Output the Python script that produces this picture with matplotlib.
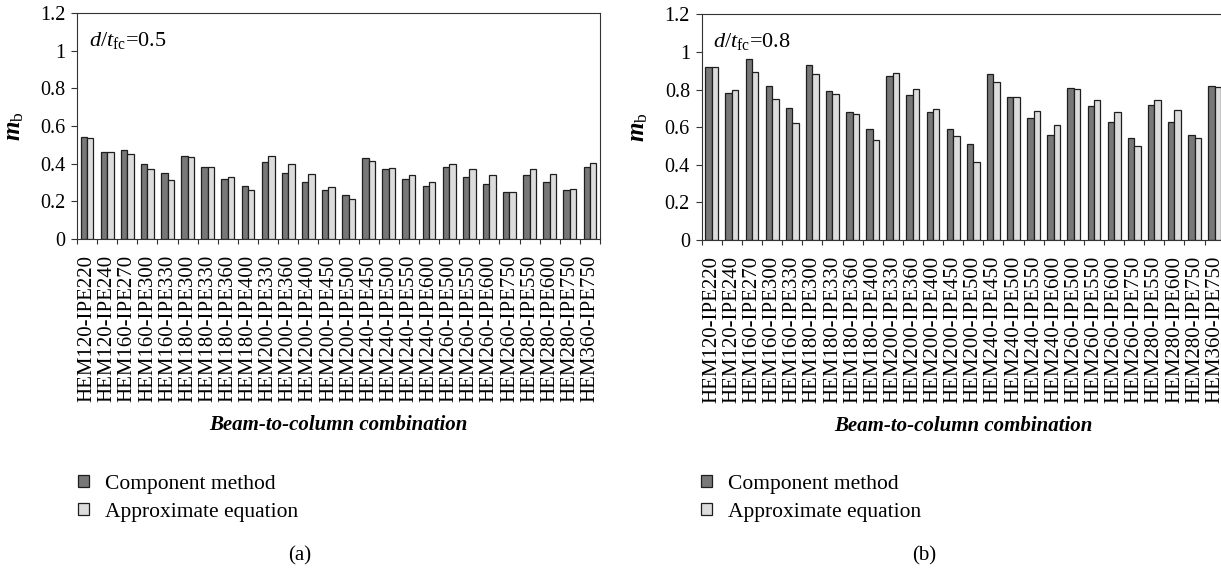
import numpy as np
import matplotlib
matplotlib.use('Agg')
import matplotlib.pyplot as plt

plt.rcParams['font.family'] = ['Liberation Serif', 'DejaVu Serif']
plt.rcParams['mathtext.fontset'] = 'custom'
plt.rcParams['mathtext.rm'] = 'Liberation Serif'
plt.rcParams['mathtext.it'] = 'Liberation Serif:italic'
plt.rcParams['mathtext.bf'] = 'Liberation Serif:bold:italic'

# Beam-to-column combinations (same for both panels)
combinations = [
    'HEM120-IPE220', 'HEM120-IPE240', 'HEM160-IPE270', 'HEM160-IPE300',
    'HEM160-IPE330', 'HEM180-IPE300', 'HEM180-IPE330', 'HEM180-IPE360',
    'HEM180-IPE400', 'HEM200-IPE330', 'HEM200-IPE360', 'HEM200-IPE400',
    'HEM200-IPE450', 'HEM200-IPE500', 'HEM240-IPE450', 'HEM240-IPE500',
    'HEM240-IPE550', 'HEM240-IPE600', 'HEM260-IPE500', 'HEM260-IPE550',
    'HEM260-IPE600', 'HEM260-IPE750', 'HEM280-IPE550', 'HEM280-IPE600',
    'HEM280-IPE750', 'HEM360-IPE750',
]

# d/tfc = 0.5
component_05 = [0.54, 0.46, 0.47, 0.40, 0.35, 0.44, 0.38, 0.32, 0.28, 0.41,
                0.35, 0.30, 0.26, 0.23, 0.43, 0.37, 0.32, 0.28, 0.38, 0.33,
                0.29, 0.25, 0.34, 0.30, 0.26, 0.38]
approx_05 = [0.535, 0.46, 0.45, 0.37, 0.31, 0.435, 0.38, 0.33, 0.26, 0.44,
             0.40, 0.345, 0.275, 0.21, 0.415, 0.375, 0.34, 0.30, 0.40, 0.37,
             0.34, 0.25, 0.37, 0.345, 0.265, 0.405]

# d/tfc = 0.8
component_08 = [0.92, 0.78, 0.96, 0.82, 0.70, 0.93, 0.79, 0.68, 0.59, 0.87,
                0.77, 0.68, 0.59, 0.51, 0.88, 0.76, 0.65, 0.56, 0.81, 0.71,
                0.63, 0.54, 0.72, 0.63, 0.56, 0.82]
approx_08 = [0.92, 0.795, 0.895, 0.75, 0.62, 0.88, 0.775, 0.67, 0.53, 0.89,
             0.805, 0.695, 0.555, 0.415, 0.84, 0.76, 0.685, 0.61, 0.805, 0.745,
             0.68, 0.50, 0.745, 0.69, 0.54, 0.815]

y_ticks = [0, 0.2, 0.4, 0.6, 0.8, 1.0, 1.2]
y_tick_labels = ['0', '0.2', '0.4', '0.6', '0.8', '1', '1.2']

DARK = '#787878'
LIGHT = '#dcdcdc'
EDGE = '#1e1e1e'
W, H = 1221, 569


def draw_panel(ax, comp, approx, ratio_text, caption, cap_x, leg_x):
    x = np.arange(len(combinations))
    bw = 0.32
    b1 = ax.bar(x - bw / 2, comp, bw, color=DARK, edgecolor=EDGE, linewidth=0.9,
                label='Component method')
    b2 = ax.bar(x + bw / 2, approx, bw, color=LIGHT, edgecolor=EDGE, linewidth=0.9,
                label='Approximate equation')

    ax.set_xlim(-0.5, len(combinations) - 0.5)
    ax.set_ylim(0, 1.2)
    ax.set_yticks(y_ticks)
    ax.set_yticklabels(y_tick_labels)
    ax.tick_params(axis='y', direction='out', length=4, width=0.8, pad=4.5,
                   labelsize=14.5, color='#333333')

    # labels under each pair, tick marks between pairs
    ax.set_xticks(x)
    ax.set_xticklabels(combinations, rotation=90, fontsize=15)
    ax.tick_params(axis='x', which='major', length=0, pad=11.5)
    ax.set_xticks(np.arange(-0.5, len(combinations)), minor=True)
    ax.tick_params(axis='x', which='minor', direction='out', length=3.6,
                   width=0.8, color='#333333')

    for s in ax.spines.values():
        s.set_linewidth(0.8)
        s.set_color('#333333')

    ax.set_ylabel(r'$\mathbf{m}_{\mathrm{b}}$', fontsize=18)
    ax.yaxis.set_label_coords(-0.098, 0.5)
    ax.set_xlabel('Beam-to-column combination', fontsize=15, fontweight='bold',
                  style='italic', va='top')
    ax.xaxis.set_label_coords(0.5, -0.78)

    ax.text(0.022, 0.88, r'$d/t_{\mathrm{fc}}$=' + ratio_text,
            transform=ax.transAxes, fontsize=16, va='center', ha='left')

    ax.legend(handles=[b1, b2], loc='upper left', frameon=False,
              bbox_to_anchor=(leg_x / W, 1 - 475 / H), bbox_transform=ax.figure.transFigure,
              fontsize=15.5, handlelength=0.5, handleheight=0.5, handletextpad=0.75,
              labelspacing=0.4, borderpad=0, borderaxespad=0)

    ax.figure.text(cap_x / W, 1 - 556 / H, caption, fontsize=15, ha='center', va='center')


fig = plt.figure(figsize=(W / 100, H / 100), dpi=100)
ax_a = fig.add_axes([77 / W, 1 - 238.7 / H, 523 / W, 225.4 / H])
ax_b = fig.add_axes([701.7 / W, 1 - 240 / H, 523 / W, 225.7 / H])

draw_panel(ax_a, component_05, approx_05, '0.5', '(a)', 300, 78)
draw_panel(ax_b, component_08, approx_08, '0.8', '(b)', 924, 701)

fig.savefig('out.png', dpi=100)
